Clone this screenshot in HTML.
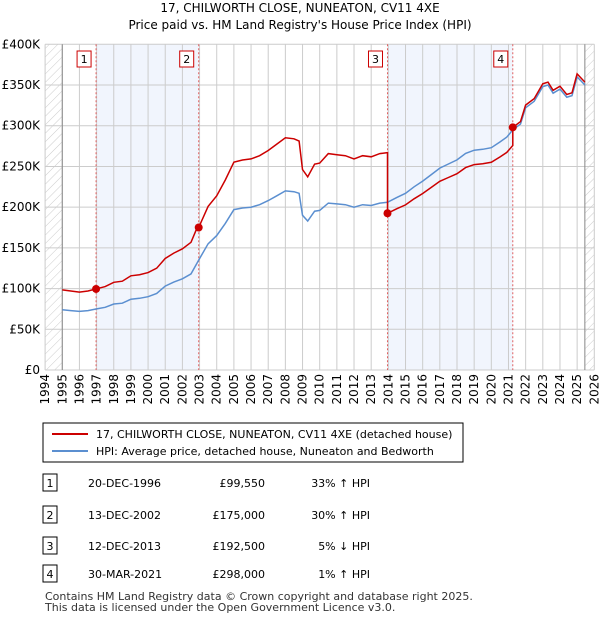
<!DOCTYPE html>
<html><head><meta charset="utf-8">
<style>
body{margin:0;background:#fff;font-family:"Liberation Sans","DejaVu Sans",sans-serif;}
svg text{font-family:"DejaVu Sans","Liberation Sans",sans-serif;}
</style></head>
<body>
<svg id="chart" width="600" height="620">
<defs><pattern id="hatch" width="6" height="6" patternUnits="userSpaceOnUse" patternTransform="rotate(45)"><line x1="0" y1="0" x2="0" y2="6" stroke="#ccc" stroke-width="1"/></pattern></defs>
<text x="300" y="12" text-anchor="middle" font-size="12">17, CHILWORTH CLOSE, NUNEATON, CV11 4XE</text>
<text x="300" y="29" text-anchor="middle" font-size="12">Price paid vs. HM Land Registry's House Price Index (HPI)</text>
<g id="plot"></g>
<rect x="43" y="423" width="420" height="39" fill="#fff" stroke="#000" stroke-width="1"/>
<line x1="52" y1="434" x2="88" y2="434" stroke="#cc0000" stroke-width="2"/>
<text x="96" y="438" font-size="11">17, CHILWORTH CLOSE, NUNEATON, CV11 4XE (detached house)</text>
<line x1="52" y1="451" x2="88" y2="451" stroke="#5b8fd0" stroke-width="2"/>
<text x="96" y="455" font-size="11">HPI: Average price, detached house, Nuneaton and Bedworth</text>
<g id="table" font-size="11"></g>
<text x="45" y="600" font-size="11" fill="#333">Contains HM Land Registry data © Crown copyright and database right 2025.</text>
<text x="45" y="611" font-size="11" fill="#333">This data is licensed under the Open Government Licence v3.0.</text>
</svg>
<script>
const hpiYears=[1995,1995.5,1996,1996.5,1997,1997.5,1998,1998.5,1999,1999.5,2000,2000.5,2001,2001.5,2002,2002.5,2002.95,2003.5,2004,2004.5,2005,2005.5,2006,2006.5,2007,2007.5,2008,2008.5,2008.8,2009,2009.3,2009.7,2010,2010.5,2011,2011.5,2012,2012.5,2013,2013.5,2013.95,2014.5,2015,2015.5,2016,2016.5,2017,2017.5,2018,2018.5,2019,2019.5,2020,2020.5,2020.9,2021.25,2021.7,2022,2022.5,2023,2023.3,2023.6,2024,2024.4,2024.7,2025,2025.45];
const hpiValues=[74,73,72,73,75,77,81,82,87,88,90,94,103,108,112,118,135,155,165,180,197,199,200,203,208,214,220,219,217,190,183,195,196,205,204,203,200,203,202,205,206,212,217,225,232,240,248,253,258,266,270,271,273,280,286,295,302,322,330,348,350,340,345,335,337,360,350];
const saleYears=[1996.97,2002.95,2013.95,2021.25];
const salePrices=[99.55,175,192.5,298];
const saleDates=["20-DEC-1996","13-DEC-2002","12-DEC-2013","30-MAR-2021"];
const saleLabels=["£99,550","£175,000","£192,500","£298,000"];
const saleHpi=["33% ↑ HPI","30% ↑ HPI","5% ↓ HPI","1% ↑ HPI"];
const yTicks=[0,50,100,150,200,250,300,350,400];
const yTickLabels=["£0","£50K","£100K","£150K","£200K","£250K","£300K","£350K","£400K"];
const xTicks=[1994,1995,1996,1997,1998,1999,2000,2001,2002,2003,2004,2005,2006,2007,2008,2009,2010,2011,2012,2013,2014,2015,2016,2017,2018,2019,2020,2021,2022,2023,2024,2025,2026];

const NS="http://www.w3.org/2000/svg";
const X0=45.1,X1=594.3,Y0=370,Y1=44.3;
const xs=y=>X0+(y-1994)/32*(X1-X0);
const ys=v=>Y0-v/400*(Y0-Y1);
const plot=document.getElementById('plot');
function mk(tag,attrs,parent){const e=document.createElementNS(NS,tag);for(const k in attrs)e.setAttribute(k,attrs[k]);(parent||plot).appendChild(e);return e;}
function hpiAt(t){for(let i=0;i<hpiYears.length-1;i++){if(t<=hpiYears[i+1]){const f=(t-hpiYears[i])/(hpiYears[i+1]-hpiYears[i]);return hpiValues[i]+f*(hpiValues[i+1]-hpiValues[i]);}}return hpiValues[hpiValues.length-1];}

let e;
e=mk('rect',{x:X0,y:Y1,width:X1-X0,height:Y0-Y1,fill:'#fff'});


// shaded periods
for(let i=0;i<4;i+=2){
 e=mk('rect',{x:xs(saleYears[i]),y:Y1,width:xs(saleYears[i+1])-xs(saleYears[i]),height:Y0-Y1,fill:'#eef3fd',opacity:0.8});
 
 
}
// hatches
e=mk('rect',{x:X0,y:Y1,width:xs(1995)-X0,height:Y0-Y1,fill:'url(#hatch)'});


e=mk('rect',{x:xs(2025.45),y:Y1,width:X1-xs(2025.45),height:Y0-Y1,fill:'url(#hatch)'});


// grid
xTicks.forEach((t,i)=>{
 e=mk('line',{x1:xs(t),x2:xs(t),y1:Y1,y2:Y0,stroke:'#ccc','stroke-width':1});
 
 
 e=mk('text',{x:0,y:0,'font-size':12,'text-anchor':'end',transform:`translate(${xs(t)+4},${Y0+4}) rotate(-90)`});
 e.textContent=t;
 
 
});
yTicks.forEach((v,i)=>{
 e=mk('line',{x1:X0,x2:X1,y1:ys(v),y2:ys(v),stroke:'#ccc','stroke-width':1});
 
 
 e=mk('text',{x:40,y:ys(v)+4,'font-size':12,'text-anchor':'end'});
 e.textContent=yTickLabels[i];
 
 
});
e=mk('line',{x1:xs(1995),x2:xs(1995),y1:Y1,y2:Y0,stroke:'#888'});


e=mk('line',{x1:xs(2025.45),x2:xs(2025.45),y1:Y1,y2:Y0,stroke:'#888'});


// sale vlines & markers labels
saleYears.forEach((s,i)=>{
 e=mk('line',{x1:xs(s),x2:xs(s),y1:Y1,y2:Y0,stroke:'#e06060','stroke-width':1,'stroke-dasharray':'2,2'});
 
 
 const g=mk('g',{});
 
 
 mk('rect',{x:xs(s)-19,y:51,width:14,height:16,fill:'#fff',stroke:'#c00'},g);
 const t=mk('text',{x:xs(s)-12,y:63,'font-size':11,'text-anchor':'middle'},g);t.textContent=i+1;
});
// HPI line
let d='';hpiYears.forEach((t,i)=>{d+=(i?'L':'M')+xs(t).toFixed(1)+','+ys(hpiValues[i]).toFixed(1);});
e=mk('path',{d:d,fill:'none',stroke:'#5b8fd0','stroke-width':1.5});


// property line: HPI indexed to latest sale
let pts=[];
const times=hpiYears.concat(saleYears).sort((a,b)=>a-b);
times.forEach(t=>{
 let k=0;for(let j=0;j<saleYears.length;j++)if(t>=saleYears[j]-1e-9)k=j;
 const r=salePrices[k]/hpiAt(saleYears[k]);
 if(saleYears.includes(t)&&k>0){const pr=salePrices[k-1]/hpiAt(saleYears[k-1]);pts.push([t,hpiAt(t)*pr]);}
 pts.push([t,hpiAt(t)*r]);
});
d='';pts.forEach((p,i)=>{d+=(i?'L':'M')+xs(p[0]).toFixed(1)+','+ys(p[1]).toFixed(1);});
e=mk('path',{d:d,fill:'none',stroke:'#cc0000','stroke-width':1.5});


saleYears.forEach((s,i)=>{
 e=mk('circle',{cx:xs(s),cy:ys(salePrices[i]),r:4,fill:'#cc0000'});
 
 
});
// table
const tb=document.getElementById('table');
const rowY=[483,515,546,574];
saleDates.forEach((dt,i)=>{
 const y=rowY[i];
 const g=mk('g',{},tb);
 
 
 mk('rect',{x:43,y:y-9,width:14,height:17,fill:'#fff',stroke:'#000'},g);
 let t=mk('text',{x:50,y:y+4,'text-anchor':'middle'},g);t.textContent=i+1;
 t=mk('text',{x:88,y:y+4},g);t.textContent=dt;
 t=mk('text',{x:265,y:y+4,'text-anchor':'end'},g);t.textContent=saleLabels[i];
 t=mk('text',{x:370,y:y+4,'text-anchor':'end'},g);t.textContent=saleHpi[i];
});
</script>
</body></html>
